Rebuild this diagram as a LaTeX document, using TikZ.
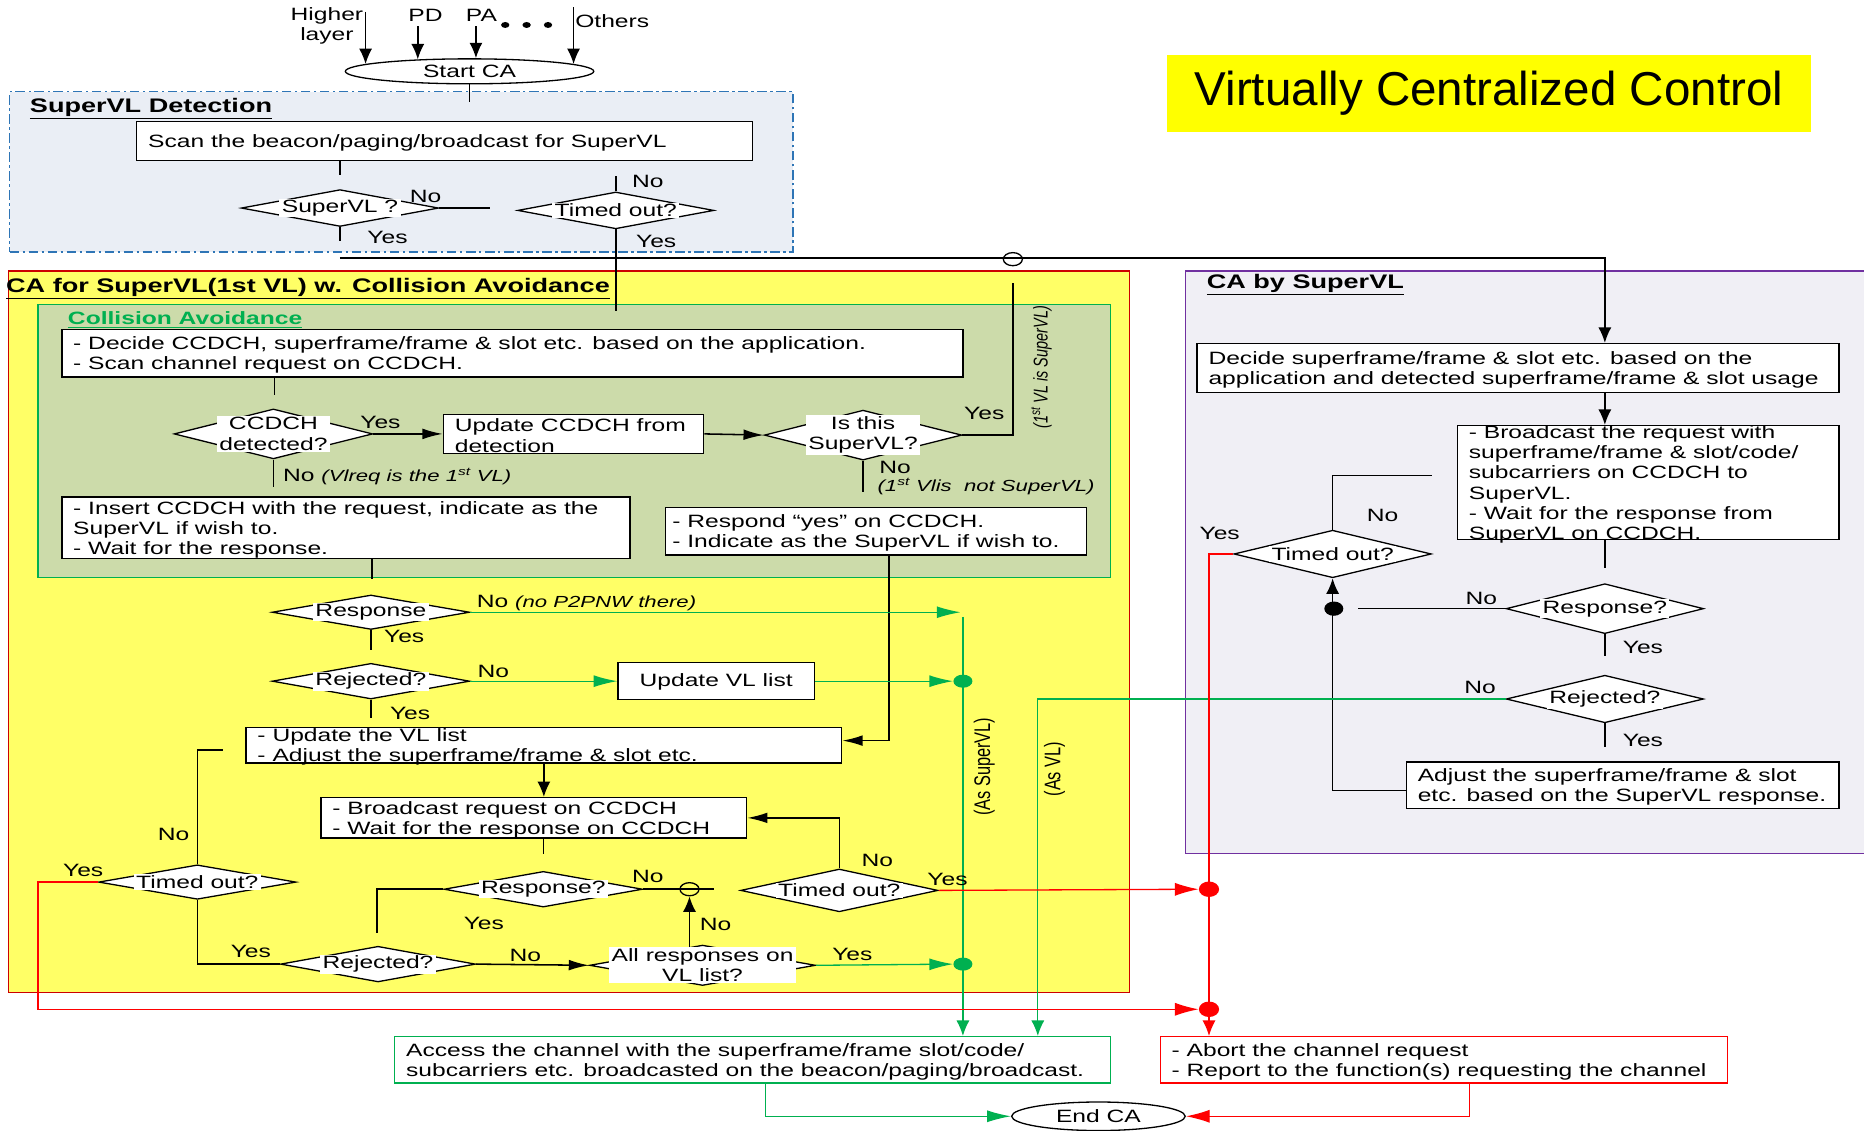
\documentclass[tikz,border=0pt]{standalone}
\usepackage{fontspec}
\setmainfont{Liberation Sans}[FakeStretch=1.38]
\newfontfamily\titlefont{Liberation Sans}
\newfontfamily\rotfont{Liberation Sans}[FakeStretch=0.725]
\usetikzlibrary{arrows.meta,shapes.geometric}
\definecolor{detfill}{RGB}{234,238,245}
\definecolor{detline}{RGB}{46,117,182}
\definecolor{cafill}{RGB}{255,255,102}
\definecolor{caline}{RGB}{204,0,0}
\definecolor{colfill}{RGB}{204,219,170}
\definecolor{colline}{RGB}{0,176,80}
\definecolor{byfill}{RGB}{240,239,245}
\definecolor{byline}{RGB}{112,48,160}
\definecolor{gline}{RGB}{0,176,80}
\definecolor{rline}{RGB}{255,0,0}
\definecolor{ttl}{RGB}{255,255,0}
\newcommand\fs{\fontsize{15}{17}\selectfont}
\newcommand\itsm{\itshape\fontsize{13.5}{15}\selectfont}
\newcommand\hfnt{\fontsize{16.5}{19}\selectfont\bfseries}
\newcommand\mkbox[7][]{%
  \node[bx,#1,minimum width=#5,minimum height=#6] (#2) at (#3,#4) {};
  \node[tx,anchor=west] (#2t) at ([xshift=10pt,yshift=-1.5pt]#2.west) {#7};}
\tikzset{
  ln/.style={line width=1.3pt, draw=black},
  gln/.style={line width=1.1pt, draw=gline},
  rln/.style={line width=1.1pt, draw=rline},
  arrV/.style={-{Latex[length=13pt,width=11pt]}},
  arrH/.style={-{Latex[length=17pt,width=9pt]}},
  arrGH/.style={-{Latex[length=20pt,width=10pt]}},
  arrGV/.style={-{Latex[length=13pt,width=11pt]}},
  arrRH/.style={-{Latex[length=20pt,width=11pt]}},
  arrRV/.style={-{Latex[length=13pt,width=11pt]}},
  bx/.style={draw, fill=white, line width=1.2pt, inner sep=0pt},
  tx/.style={inner sep=0pt, align=left, font=\fs},
  dia/.style={diamond, draw, fill=white, line width=1.1pt, inner sep=0pt},
  dlab/.style={fill=white, inner xsep=2pt, inner ysep=1pt, font=\fs, align=center},
  lb/.style={inner sep=0pt, font=\fs},
  panel/.style={line width=1.1pt, inner sep=0pt},
  hop/.style={ellipse, draw, line width=1.1pt, minimum width=16, minimum height=11, inner sep=0pt},
  gdot/.style={ellipse, fill=gline, minimum width=16, minimum height=11, inner sep=0pt},
  rdot/.style={ellipse, fill=rline, minimum width=17, minimum height=13, inner sep=0pt},
  bdot/.style={ellipse, fill=black, minimum width=16, minimum height=12, inner sep=0pt},
  sdot/.style={ellipse, fill=black, minimum width=7, minimum height=5, inner sep=0pt},
  oval/.style={ellipse, draw, fill=white, line width=1.1pt, inner sep=0pt, font=\fs},
  head/.style={inner sep=0pt, anchor=west, font=\hfnt}
}
\begin{document}
\begin{tikzpicture}[x=1pt,y=-1pt]
\useasboundingbox (0,0) rectangle (1568,951);
\fill[white] (0,0) rectangle (1568,951);

% ---------- panels ----------
\node[panel, draw=detline, fill=detfill, dash pattern=on 8pt off 3pt on 2pt off 3pt,
      minimum width=659, minimum height=135] (pDet) at (337.5,144.5) {};
\node[panel, draw=caline, fill=cafill, minimum width=943, minimum height=607] (pCA) at (478.5,531.5) {};
\node[panel, draw=colline, fill=colfill, minimum width=902, minimum height=230] (pCol) at (483,371) {};
\node[panel, draw=byline, fill=byfill, minimum width=578, minimum height=490] (pBy) at (1286,473) {};

\node[head] (hDet) at (25,91) {\underline{SuperVL Detection}};
\node[head] (hCA) at (5,243) {\underline{CA for SuperVL(1st VL) w. Collision Avoidance}};
\node[head, font=\fs\bfseries, text=colline] (hCol) at (57,269) {\underline{Collision Avoidance}};
\node[head] (hBy) at (1015,239) {\underline{CA by SuperVL}};

% ---------- title ----------
\node[fill=ttl, minimum width=541, minimum height=65, inner sep=0pt,
      font=\titlefont\fontsize{40}{46}\selectfont] (title) at (1252.5,78.5) {Virtually Centralized Control};

% ---------- top ----------
\node[oval, minimum width=209, minimum height=21] (start) at (395,60) {Start CA};
\node[lb, align=center] (lHL) at (275,21.5) {Higher\\layer};
\node[lb] (lPD) at (358,13) {PD};
\node[lb] (lPA) at (405,13) {PA};
\node[lb] (lOT) at (515,18) {Others};
\node[sdot] (dot1) at (425,21) {};
\node[sdot] (dot2) at (443,21) {};
\node[sdot] (dot3) at (461,21) {};
\coordinate (cHL) at (0,10);
\coordinate (cPD) at (0,22);
\coordinate (cOT) at (0,6);
\draw[ln,arrV] (start.176 |- cHL) -- (start.176);
\draw[ln,arrV] (start.167 |- cPD) -- (start.167);
\draw[ln,arrV] (start.64 |- cPD) -- (start.64);
\draw[ln,arrV] (start.4 |- cOT) -- (start.4);

% ---------- SuperVL detection ----------
\mkbox{bScan}{374}{118.5}{518}{33}{Scan the beacon/paging/broadcast for SuperVL}
\node[dia, minimum width=166, minimum height=31] (dSup) at (286,175) {};
\node[dlab] (dSupL) at (dSup) {SuperVL ?};
\node[dia, minimum width=165, minimum height=31] (dTo1) at (518,177) {};
\node[dlab] (dTo1L) at (dTo1) {Timed out?};

% ---------- Collision avoidance ----------
\mkbox{bDec1}{431}{297}{758}{40}{- Decide CCDCH, superframe/frame \& slot etc. based on the application.\\- Scan channel request on CCDCH.}
\node[dia, minimum width=167, minimum height=42] (dCC) at (230,365) {};
\node[dlab] (dCCL) at (dCC) {CCDCH\\detected?};
\mkbox{bUpd}{482.5}{365}{219}{33}{Update CCDCH from\\detection}
\node[dia, minimum width=166, minimum height=42] (dIs) at (726,366) {};
\node[dlab] (dIsL) at (dIs) {Is this\\SuperVL?};
\mkbox{bIns}{291}{444}{478}{52}{- Insert CCDCH with the request, indicate as the\\SuperVL if wish to.\\- Wait for the response.}
\node[bx, minimum width=354, minimum height=40] (bResp) at (737,447) {};
\node[tx, anchor=west] (bRespt) at ([xshift=6pt,yshift=-1.5pt]bResp.west) {- Respond “yes” on CCDCH.\\- Indicate as the SuperVL if wish to.};

% ---------- CA lower part ----------
\node[dia, minimum width=166, minimum height=29] (dResp1) at (312,515) {};
\node[dlab] (dResp1L) at (dResp1) {Response};
\node[dia, minimum width=166, minimum height=30] (dRej1) at (312,573) {};
\node[dlab] (dRej1L) at (dRej1) {Rejected?};
\node[bx, minimum width=165, minimum height=31] (bVL) at (602.5,573) {};
\node[tx] (bVLt) at ([yshift=-1pt]bVL.center) {Update VL list};
\mkbox{bUVL}{457.5}{627}{501}{30}{- Update the VL list\\- Adjust the superframe/frame \& slot etc.}
\mkbox{bBc}{449}{688}{358}{34}{- Broadcast request on CCDCH\\- Wait for the response on CCDCH}
\node[dia, minimum width=167, minimum height=30] (dResp2) at (457,748) {};
\node[dlab] (dResp2L) at (dResp2) {Response?};
\node[dia, minimum width=166, minimum height=36] (dTo2) at (706,749) {};
\node[dlab] (dTo2L) at (dTo2) {Timed out?};
\node[dia, minimum width=166, minimum height=29] (dTo3) at (166,742) {};
\node[dlab] (dTo3L) at (dTo3) {Timed out?};
\node[dia, minimum width=164, minimum height=30] (dRej2) at (318,811) {};
\node[dlab] (dRej2L) at (dRej2) {Rejected?};
\node[dia, minimum width=190, minimum height=34] (dAll) at (591,812) {};
\node[dlab] (dAllL) at (dAll) {All responses on\\VL list?};

% ---------- CA by SuperVL ----------
\mkbox{bDec2}{1277}{309.5}{540}{41}{Decide superframe/frame \& slot etc. based on the\\application and detected superframe/frame \& slot usage}
\mkbox{bBr}{1386.5}{406}{321}{96}{- Broadcast the request with\\superframe/frame \& slot/code/\\subcarriers on CCDCH to\\SuperVL.\\- Wait for the response from\\SuperVL on CCDCH.}
\node[dia, minimum width=166, minimum height=40] (dTo4) at (1121,466) {};
\node[dlab] (dTo4L) at (dTo4) {Timed out?};
\node[dia, minimum width=166, minimum height=42] (dResp3) at (1350,512) {};
\node[dlab] (dResp3L) at (dResp3) {Response?};
\node[dia, minimum width=166, minimum height=40] (dRej3) at (1350,588) {};
\node[dlab] (dRej3L) at (dRej3) {Rejected?};
\mkbox{bAdj}{1365}{660.5}{364}{39}{Adjust the superframe/frame \& slot\\etc. based on the SuperVL response.}

% ---------- bottom ----------
\mkbox[draw=gline]{bAcc}{633}{891.5}{602}{39}{Access the channel with the superframe/frame slot/code/\\subcarriers etc. broadcasted on the beacon/paging/broadcast.}
\mkbox[draw=rline]{bAbort}{1214.5}{891.5}{477}{39}{- Abort the channel request\\- Report to the function(s) requesting the channel}
\node[oval, minimum width=146, minimum height=24] (endCA) at (924,939) {End CA};

% ---------- dots ----------
\node[hop] (h1) at (852,218) {};
\node[hop] (h2) at (580,748) {};
\node[gdot] (gd1) at (810,573) {};
\node[gdot] (gd2) at (810,811) {};
\node[rdot] (rd1) at (1017,748) {};
\node[rdot] (rd2) at (1017,849) {};
\node[bdot] (bd) at (1122,512) {};

% ---------- coordinates ----------
\coordinate (e1) at (395,86);
\coordinate (e2) at (286,147);
\coordinate (e3) at (412,175);
\coordinate (e4) at (286,203);
\coordinate (e5) at (518,148);
\coordinate (e6) at (518,262);
\coordinate (e7) at (286,217);
\coordinate (cX) at (1350,0);
\coordinate (e8) at (231,332);
\coordinate (e9) at (852,238);
\coordinate (e10) at (726,414);
\coordinate (e11) at (230,410);
\coordinate (e12) at (313,487);
\coordinate (cR) at (748,0);
\coordinate (gA) at (808,515);
\coordinate (gB) at (810,519);
\coordinate (gC) at (873,588);
\coordinate (e14) at (312,547);
\coordinate (e15) at (312,604);
\coordinate (e16) at (457,718);
\coordinate (e17) at (317,785);
\coordinate (e18) at (601,748);
\coordinate (e19) at (188,631);
\coordinate (cL) at (32,849);
\coordinate (rX) at (1017,467);
\coordinate (e20) at (1350,478);
\coordinate (e21) at (1142,512);
\coordinate (e22) at (1350,552);
\coordinate (e23) at (1350,628);
\coordinate (e24) at (1205,400);
\coordinate (gX) at (644,0);
\coordinate (rX2) at (1236,0);

% ---------- black connectors ----------
\draw[ln] (start.south) -- (e1);
\draw[ln] (bScan.south -| e2) -- (e2);
\draw[ln] (dSup.east) -- (e3);
\draw[ln] (dSup.south) -- (e4);
\draw[ln] (dTo1.north) -- (e5);
\draw[ln] (dTo1.south) -- (e6);
\draw[ln,arrV] (e7) -| (bDec2.north -| cX);
\draw[ln] (bDec1.south -| e8) -- (e8);
\draw[ln,arrH] (dCC.east) -- (bUpd.west);
\draw[ln,arrH] (bUpd.east) -- (dIs.west);
\draw[ln] (dIs.east) -| (e9);
\draw[ln] (dIs.south) -- (e10);
\draw[ln] (dCC.south) -- (e11);
\draw[ln] (bIns.south -| e12) -- (e12);
\draw[ln,arrH] (bResp.south -| cR) |- ([yshift=4pt]bUVL.east);
\draw[ln] (dResp1.south) -- (e14);
\draw[ln] (dRej1.south) -- (e15);
\draw[ln,arrV] (bUVL.south) -- (bUVL.south |- bBc.north);
\draw[ln] (bBc.south -| e16) -- (e16);
\draw[ln] (dResp2.west) -| (e17);
\draw[ln] (dResp2.east) -- (e18);
\draw[ln,arrV] (dAllL.north -| h2) -- (h2.south);
\draw[ln,arrH] (dTo2.north) |- (bBc.east);
\draw[ln] (dTo3.north) |- (e19);
\draw[ln] (dTo3.south) |- (dRej2.west);
\draw[ln,arrH] (dRej2.east) -- (dAll.west);
\draw[ln,arrV] (bDec2.south -| cX) -- (bBr.north -| cX);
\draw[ln] (bBr.south -| e20) -- (e20);
\draw[ln] (dResp3.west) -- (e21);
\draw[ln] (dResp3.south) -- (e22);
\draw[ln] (dRej3.south) -- (e23);
\draw[ln,arrV] ([yshift=-4.5pt]bAdj.west) -| (dTo4.south);
\draw[ln] (dTo4.north) |- (e24);

% ---------- green connectors ----------
\draw[gln,arrGH] (dResp1.east) -- (gA);
\draw[gln,arrGH] (dRej1.east) -- (bVL.west);
\draw[gln,arrGH] (bVL.east) -- (gd1.west);
\draw[gln,arrGH] (dAll.east) -- (gd2.west);
\draw[gln,arrGV] (gB) -- (gB |- bAcc.north);
\draw[gln,arrGV] (dRej3.west) -| (gC |- bAcc.north);
\draw[gln,arrGH] (bAcc.south -| gX) |- (endCA.west);

% ---------- red connectors ----------
\draw[rln,arrRH] (dTo2.east) -- (rd1.west);
\draw[rln,arrRH] (dTo3.west) -| (cL) -- (rd2.west);
\draw[rln,arrRV] (dTo4.west) -| (rX |- bAbort.north);
\draw[rln,arrRH] (bAbort.south -| rX2) |- (endCA.east);

% ---------- labels ----------
\node[lb] (l1) at (358,165) {No};
\node[lb] (l2) at (326,200) {Yes};
\node[lb] (l3) at (545,153) {No};
\node[lb] (l4) at (552,203) {Yes};
\node[lb] (l5) at (320,355) {Yes};
\node[lb, anchor=west] (l6) at (238,401) {No {\itsm (Vlreq is the 1\textsuperscript{st} VL)}};
\node[lb] (l7) at (828,348) {Yes};
\node[lb] (l8) at (753,393) {No};
\node[lb, anchor=west] (l9) at (738,409) {\itsm (1\textsuperscript{st} Vlis\ \ not SuperVL)};
\node[lb, anchor=west] (l10) at (401,507) {No {\itsm (no P2PNW there)}};
\node[lb] (l11) at (340,535) {Yes};
\node[lb] (l12) at (415,565) {No};
\node[lb] (l13) at (345,600) {Yes};
\node[lb] (l14) at (545,737) {No};
\node[lb] (l15) at (407,777) {Yes};
\node[lb] (l16) at (602,778) {No};
\node[lb] (l17) at (738,724) {No};
\node[lb] (l18) at (797,740) {Yes};
\node[lb] (l19) at (146,702) {No};
\node[lb] (l20) at (70,732) {Yes};
\node[lb] (l21) at (211,800) {Yes};
\node[lb] (l22) at (442,804) {No};
\node[lb] (l23) at (717,803) {Yes};
\node[lb] (l24) at (1163,434) {No};
\node[lb] (l25) at (1026,449) {Yes};
\node[lb] (l26) at (1246,503) {No};
\node[lb] (l27) at (1382,545) {Yes};
\node[lb] (l28) at (1245,578) {No};
\node[lb] (l29) at (1382,623) {Yes};
\node[inner sep=0pt, rotate=90, font=\rotfont\itshape\fontsize{16.8}{19}\selectfont] (l30) at (876,309) {(1\textsuperscript{st} VL is SuperVL)};
\node[inner sep=0pt, rotate=90, font=\rotfont\fontsize{19}{21}\selectfont] (l31) at (828,645) {(As SuperVL)};
\node[inner sep=0pt, rotate=90, font=\rotfont\fontsize{19}{21}\selectfont] (l32) at (887,647) {(As VL)};
\end{tikzpicture}
\end{document}
